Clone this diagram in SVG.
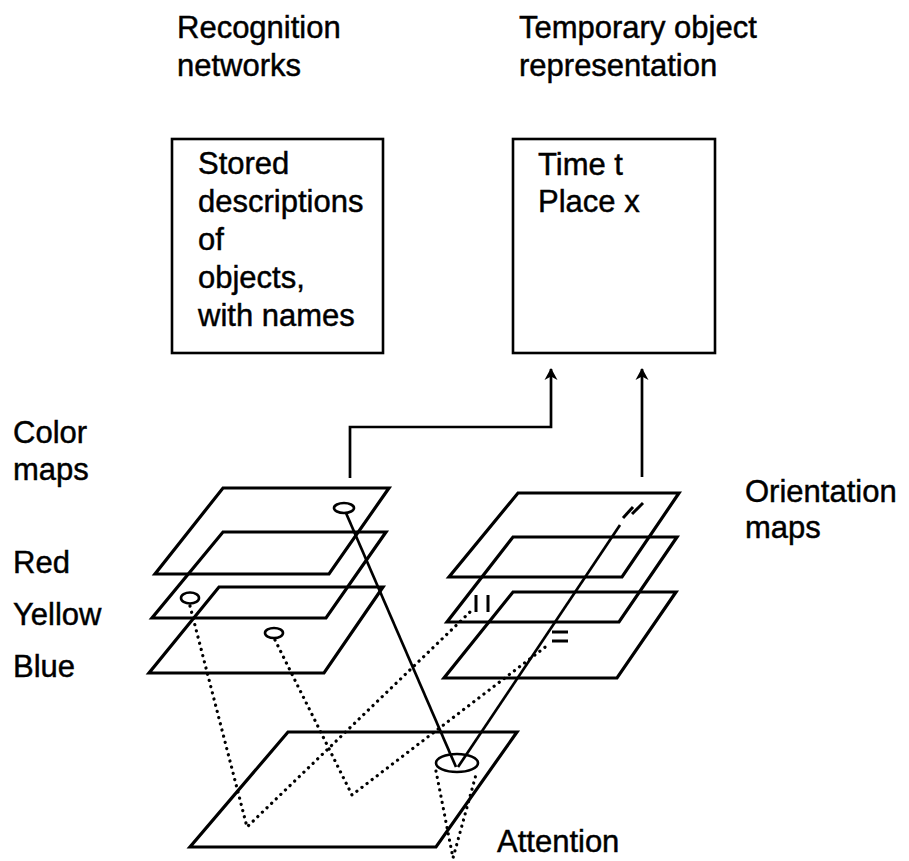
<svg xmlns="http://www.w3.org/2000/svg" width="909" height="861" viewBox="0 0 909 861">
  <style>
    text { font-family: "Liberation Sans", Arial, sans-serif; font-size: 31px; fill: #000; stroke: #000; stroke-width: 0.45; }
    .box { fill: none; stroke: #000; stroke-width: 2.6; }
    .plane { fill: none; stroke: #000; stroke-width: 3.2; stroke-linejoin: miter; }
    .ring { fill: none; stroke: #000; stroke-width: 2.6; }
    .wire { fill: none; stroke: #000; stroke-width: 2.7; }
    .dots { fill: none; stroke: #000; stroke-width: 3.2; stroke-linecap: round; stroke-dasharray: 0.1 6.3; }
    .tick { stroke: #000; stroke-width: 3; }
  </style>
  <defs>
    <!-- upward chevron head, drawn along +x so orient="auto" turns it with the line -->
    <marker id="arrow" viewBox="0 0 12 14" refX="11" refY="7" markerWidth="12" markerHeight="14" markerUnits="userSpaceOnUse" orient="auto">
      <path d="M12,7 L0,0.5 L3.5,7 L0,13.5 Z" fill="#000"/>
    </marker>
  </defs>
  <rect width="909" height="861" fill="#fff"/>

  <!-- column headings -->
  <g id="heading-recognition">
    <text x="177" y="38">Recognition</text>
    <text x="177" y="76">networks</text>
  </g>
  <g id="heading-temporary">
    <text x="519" y="38">Temporary object</text>
    <text x="519" y="76">representation</text>
  </g>

  <!-- stored descriptions box -->
  <g id="recognition-box">
    <rect class="box" x="172" y="139" width="211" height="214"/>
    <text x="198" y="174">Stored</text>
    <text x="198" y="212">descriptions</text>
    <text x="198" y="250">of</text>
    <text x="198" y="288">objects,</text>
    <text x="198" y="326">with names</text>
  </g>

  <!-- object file box -->
  <g id="object-box">
    <rect class="box" x="513" y="139" width="202" height="214"/>
    <text x="538" y="175">Time t</text>
    <text x="538" y="212">Place x</text>
  </g>

  <!-- side labels -->
  <g id="label-color-maps">
    <text x="13" y="443">Color</text>
    <text x="13" y="480">maps</text>
  </g>
  <g id="label-red"><text x="13" y="573">Red</text></g>
  <g id="label-yellow"><text x="13" y="625">Yellow</text></g>
  <g id="label-blue"><text x="13" y="677">Blue</text></g>
  <g id="label-orientation-maps">
    <text x="745" y="502">Orientation</text>
    <text x="745" y="538">maps</text>
  </g>
  <g id="label-attention"><text x="497" y="852">Attention</text></g>

  <!-- colour maps (red, yellow, blue) -->
  <g id="color-map-red">
    <polygon class="plane" points="223,488 389,488 329,574 155,574"/>
    <ellipse class="ring" cx="344" cy="508" rx="10" ry="5"/>
  </g>
  <g id="color-map-yellow">
    <polygon class="plane" points="223,532 386,532 326,618 152,618"/>
    <ellipse class="ring" cx="190" cy="598" rx="9" ry="5.5"/>
  </g>
  <g id="color-map-blue">
    <polygon class="plane" points="219,587 383,587 324,673 149,673"/>
    <ellipse class="ring" cx="274" cy="633" rx="9" ry="5"/>
  </g>

  <!-- orientation maps -->
  <g id="orientation-map-diagonal">
    <polygon class="plane" points="518,493 679,493 622,577 449,577"/>
    <line class="tick" x1="623" y1="518" x2="633" y2="507"/>
    <line class="tick" x1="632" y1="514" x2="643" y2="503"/>
  </g>
  <g id="orientation-map-vertical">
    <polygon class="plane" points="513,537 677,537 619,622 447,622"/>
    <line class="tick" x1="476" y1="595" x2="476" y2="612"/>
    <line class="tick" x1="488" y1="595" x2="488" y2="612"/>
  </g>
  <g id="orientation-map-horizontal">
    <polygon class="plane" points="513,592 676,592 617,678 444,678"/>
    <line class="tick" x1="552" y1="632" x2="568" y2="632"/>
    <line class="tick" x1="552" y1="641" x2="568" y2="641"/>
  </g>

  <!-- master map of locations -->
  <g id="attention-map">
    <polygon class="plane" points="288,732 517,732 436,847 190,847"/>
    <ellipse class="ring" cx="457" cy="763" rx="21" ry="9"/>
  </g>

  <!-- connectors -->
  <g id="connectors">
    <polyline class="wire" points="350,478 350,427 551,427 551,369" marker-end="url(#arrow)"/>
    <line class="wire" x1="642" y1="477" x2="642" y2="369" marker-end="url(#arrow)"/>
    <line class="wire" x1="346" y1="513" x2="456" y2="767"/>
    <line class="wire" x1="458" y1="767" x2="620" y2="525"/>
    <polyline class="dots" points="190,606 247,827 470,612"/>
    <polyline class="dots" points="275,640 352,795 548,645"/>
    <polyline class="dots" points="436,771 453,858 477,771"/>
  </g>
</svg>
